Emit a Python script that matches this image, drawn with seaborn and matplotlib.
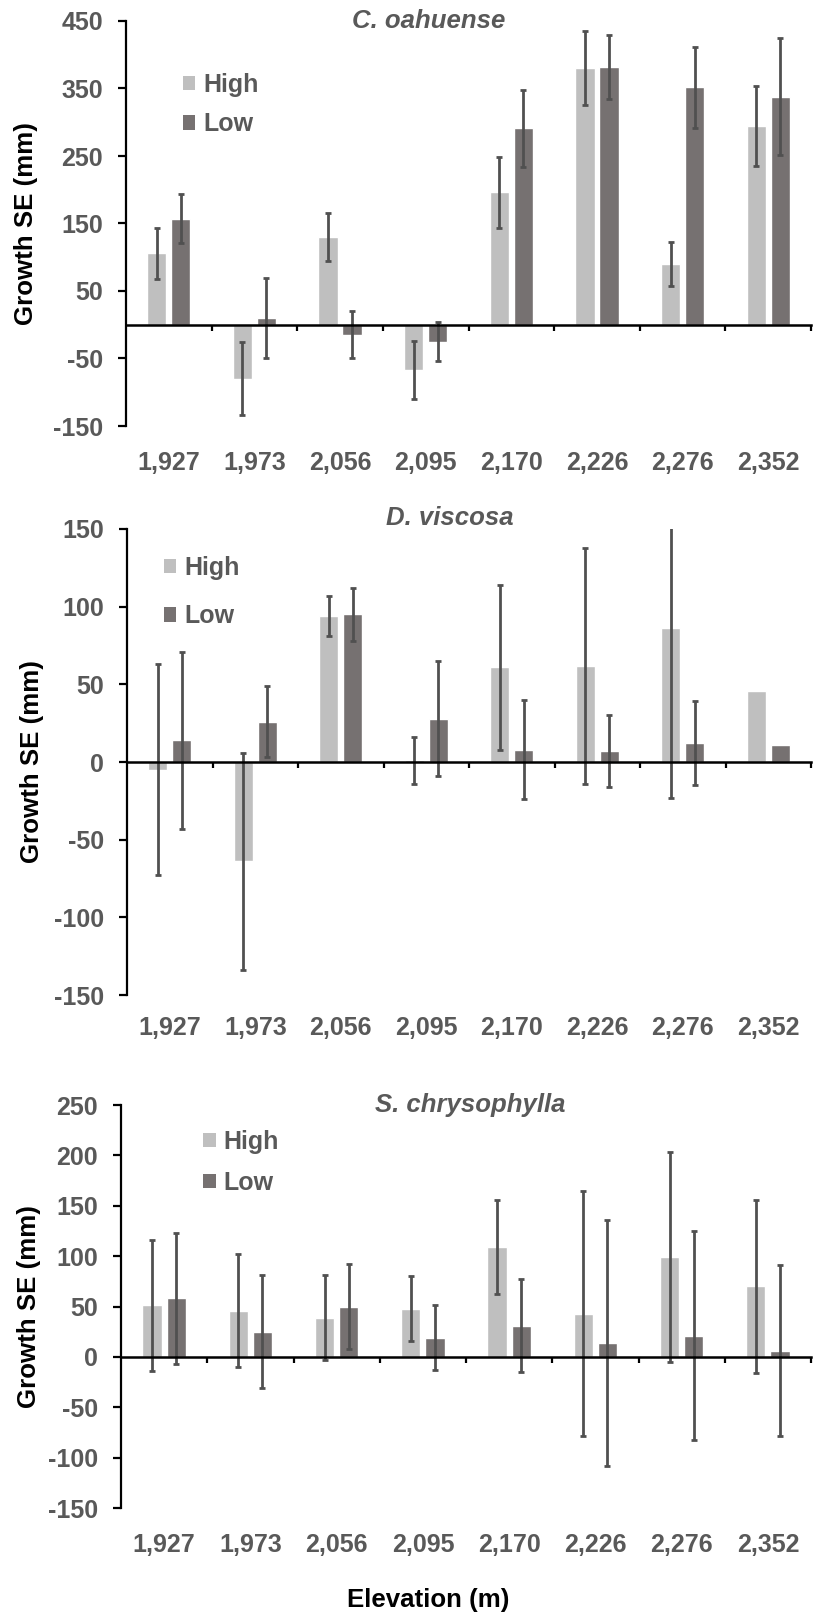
import numpy as np
import pandas as pd
import matplotlib
matplotlib.use("Agg")
import matplotlib.pyplot as plt
import seaborn as sns
from matplotlib.patches import Patch

elevations = ["1,927", "1,973", "2,056", "2,095", "2,170", "2,226", "2,276", "2,352"]
levels = ["High", "Low"]

# C. oahuense
co_high = [106, -80, 130, -67, 196, 380, 90, 294]
co_high_se = [38, 54, 35, 43, 52, 55, 33, 59]
co_low = [157, 10, -15, -25, 291, 382, 352, 338]
co_low_se = [36, 59, 35, 29, 57, 47, 60, 87]

# D. viscosa
dv_high = [-5, -64, 94, 1, 61, 62, 86, 46]
dv_high_se = [68, 70, 13, 15, 53, 76, 109, np.nan]
dv_low = [14, 26, 95, 28, 8, 7, 12, 11]
dv_low_se = [57, 23, 17, 37, 32, 23, 27, np.nan]

# S. chrysophylla
sc_high = [51, 46, 39, 48, 109, 43, 99, 70]
sc_high_se = [65, 56, 42, 32, 47, 122, 104, 86]
sc_low = [58, 25, 50, 19, 31, 14, 21, 6]
sc_low_se = [65, 56, 42, 32, 46, 122, 104, 85]

colors = {"High": "#BFBFBF", "Low": "#767171"}
grey_txt = "#595959"
err_col = "#505050"

sns.set_style("white")
plt.rcParams["font.family"] = ["Liberation Sans", "DejaVu Sans"]
plt.rcParams["font.weight"] = "bold"
plt.rcParams["axes.unicode_minus"] = False

W, H = 813, 1617
fig = plt.figure(figsize=(W / 100, H / 100), dpi=100)

panels = [
    dict(title="C. oahuense", high=co_high, hse=co_high_se, low=co_low, lse=co_low_se,
         box=(126, 21, 811, 426), ylim=(-150, 450), step=100,
         tx=0.442, ty=1.0, leg=(0.083, 0.872), lsp=0.62, xpad=18, ylx=26),
    dict(title="D. viscosa", high=dv_high, hse=dv_high_se, low=dv_low, lse=dv_low_se,
         box=(127, 529, 811, 995), ylim=(-150, 150), step=50,
         tx=0.472, ty=1.024, leg=(0.054, 0.942), lsp=0.97, xpad=15, ylx=32),
    dict(title="S. chrysophylla", high=sc_high, hse=sc_high_se, low=sc_low, lse=sc_low_se,
         box=(121, 1105, 811, 1508), ylim=(-150, 250), step=50,
         tx=0.506, ty=1.0, leg=(0.119, 0.938), lsp=0.67, xpad=18, ylx=29),
]

for p in panels:
    l, t, r, b = p["box"]
    ax = fig.add_axes([l / W, 1 - b / H, (r - l) / W, (b - t) / H])
    df = pd.DataFrame({
        "Elevation": elevations * 2,
        "Growth": p["high"] + p["low"],
        "Level": ["High"] * 8 + ["Low"] * 8,
    })
    sns.barplot(data=df, x="Elevation", y="Growth", hue="Level", hue_order=levels,
                order=elevations, palette=colors, width=0.56, gap=0.2,
                saturation=1, legend=False, ax=ax)

    # error bars from the given SE values
    for cont, vals, se in zip(ax.containers, [p["high"], p["low"]], [p["hse"], p["lse"]]):
        xs = np.array([bar.get_x() + bar.get_width() / 2 for bar in cont])
        vals = np.array(vals, dtype=float)
        se = np.array(se, dtype=float)
        ok = ~np.isnan(se)
        ax.errorbar(xs[ok], vals[ok], yerr=se[ok], fmt="none", ecolor=err_col,
                    elinewidth=2, capsize=2.2, capthick=2, zorder=3)

    ax.set_xlim(-0.5, 7.5)
    ax.set_ylim(*p["ylim"])
    ax.set_yticks(np.arange(p["ylim"][0], p["ylim"][1] + 1, p["step"]))
    for s in ["top", "right"]:
        ax.spines[s].set_visible(False)
    ax.spines["left"].set_color("black")
    ax.spines["left"].set_linewidth(1.6)
    ax.spines["bottom"].set_position(("data", 0))
    ax.spines["bottom"].set_color("black")
    ax.spines["bottom"].set_linewidth(1.8)
    ax.spines["bottom"].set_zorder(4)

    # tick marks between categories on the zero line
    ax.set_xticks(np.arange(0.5, 8, 1))
    ax.set_xticklabels([])
    ax.tick_params(axis="x", direction="out", length=4.5, width=1.6, color="black", bottom=True)
    ax.tick_params(axis="y", direction="out", length=5.5, width=1.6, color="black", left=True,
                   labelsize=18, labelcolor=grey_txt, pad=11)
    for lab in ax.get_yticklabels():
        lab.set_fontweight("bold")

    # category labels at the bottom of the axes
    sec = ax.secondary_xaxis(0.0)
    sec.set_xticks(range(len(elevations)))
    sec.set_xticklabels(elevations, fontsize=18, fontweight="bold", color=grey_txt)
    sec.tick_params(axis="x", length=0, pad=p["xpad"])
    for s in sec.spines.values():
        s.set_visible(False)

    ax.set_xlabel("")
    ax.set_ylabel("Growth SE (mm)", fontsize=18.6, fontweight="bold", color="black", va="center")
    ax.yaxis.set_label_coords((p["ylx"] - l) / (r - l), 0.5)

    ax.text(p["tx"], p["ty"], p["title"], transform=ax.transAxes, ha="center", va="center",
            fontsize=18.5, fontstyle="italic", fontweight="bold", color=grey_txt)

    handles = [Patch(facecolor=colors[k], edgecolor="none", label=k) for k in levels]
    leg = ax.legend(handles=handles, loc="upper left", bbox_to_anchor=p["leg"], frameon=False,
                    handlelength=0.5, handleheight=0.5, handletextpad=0.32,
                    labelspacing=p["lsp"], borderpad=0, borderaxespad=0,
                    prop={"size": 18, "weight": "bold"})
    for txt in leg.get_texts():
        txt.set_color(grey_txt)

fig.text(428 / W, 1 - 1600 / H, "Elevation (m)", ha="center", va="center",
         fontsize=18.6, fontweight="bold", color="black")

fig.savefig("out.png", dpi=100)
